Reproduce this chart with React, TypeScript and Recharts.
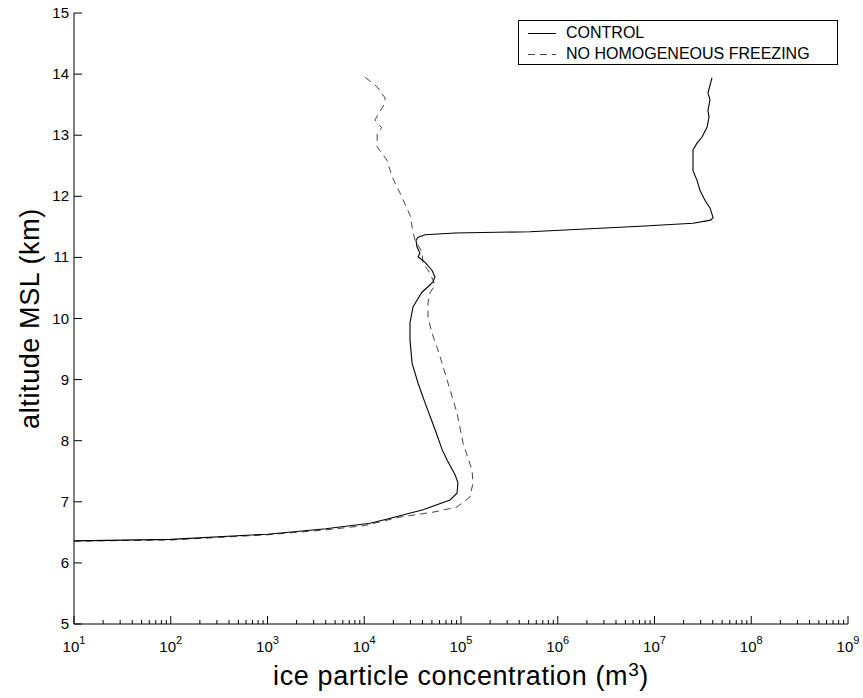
import React from 'react';
import { LineChart, Line, XAxis, YAxis, Legend } from 'recharts';

// ---- data ----
const controlConc = [
  10, 100, 1000, 4000, 11500, 18600, 40500, 77000, 91000, 93000,
  87000, 72000, 64000, 54000, 42500, 36000, 31200, 29700, 29700, 31900,
  35100, 39500, 45600, 51400, 53800, 50100, 42500, 36000, 37700, 35100,
  34300, 36000, 42500, 86700, 516000, 7080000, 25000000, 38000000, 40300000, 37500000,
  33300000, 29500000, 27500000, 25000000, 25000000, 25000000, 27500000, 31000000, 34900000, 36600000,
  35700000, 37500000, 35700000, 37500000, 39300000,
];
const controlAlt = [
  6.36, 6.385, 6.47, 6.56, 6.65, 6.73, 6.87, 7.03, 7.14, 7.31,
  7.44, 7.68, 7.85, 8.18, 8.62, 8.94, 9.27, 9.65, 9.93, 10.19,
  10.3, 10.43, 10.52, 10.6, 10.68, 10.79, 10.92, 11.01, 11.07, 11.17,
  11.28, 11.33, 11.37, 11.4, 11.42, 11.51, 11.56, 11.61, 11.65, 11.81,
  11.93, 12.1, 12.26, 12.42, 12.59, 12.76, 12.87, 12.97, 13.13, 13.3,
  13.41, 13.58, 13.69, 13.82, 13.94,
];

const noHomConc = [
  10, 100, 1000, 4000, 10000, 23400, 51400, 91000, 124000, 133000,
  130000, 115000, 105000, 91000, 73500, 63700, 56500, 50100, 45600, 45600,
  47900, 53800, 47900, 40500, 39500, 33500, 31900, 29700, 24500, 19400,
  17200, 13600, 13600, 15200, 12900, 16400, 16400, 13600, 10200,
];
const noHomAlt = [
  6.355, 6.375, 6.46, 6.54, 6.61, 6.75, 6.83, 6.915, 7.08, 7.31,
  7.52, 7.77, 7.96, 8.45, 8.94, 9.27, 9.53, 9.76, 10.02, 10.25,
  10.42, 10.55, 10.74, 10.91, 11.09, 11.28, 11.42, 11.69, 11.99, 12.32,
  12.59, 12.81, 13.05, 13.12, 13.25, 13.53, 13.61, 13.79, 13.95,
];

const xMajorTicks = [1e1, 1e2, 1e3, 1e4, 1e5, 1e6, 1e7, 1e8, 1e9];
const xMinorMultipliers = [2, 3, 4, 5, 6, 7, 8, 9];
const yTicks = [5, 6, 7, 8, 9, 10, 11, 12, 13, 14, 15];

const seriesNames = ['CONTROL', 'NO HOMOGENEOUS FREEZING'];
const xTitle = 'ice particle concentration (m';
const yTitle = 'altitude MSL (km)';

// ---- derived tables ----
const controlData = controlConc.map((x, i) => ({ x, y: controlAlt[i] }));
const noHomData = noHomConc.map((x, i) => ({ x, y: noHomAlt[i] }));
const xTicks: number[] = [];
xMajorTicks.forEach((m, i) => {
  xTicks.push(m);
  if (i < xMajorTicks.length - 1) xMinorMultipliers.forEach((k) => xTicks.push(k * m));
});

const FONT = '"Liberation Sans", Arial, Helvetica, sans-serif';

const isMajor = (v: number) => {
  const e = Math.round(Math.log10(v));
  return Math.abs(v / Math.pow(10, e) - 1) < 1e-6;
};

const BottomTick = (props: any) => {
  const { x, y, payload } = props;
  const v = payload.value;
  const major = isMajor(v);
  const e = Math.round(Math.log10(v));
  return (
    <g>
      <line x1={x} x2={x} y1={y} y2={y - (major ? 8 : 4)} stroke="#000" strokeWidth={1} />
      {major && (
        <text x={x} y={y + 28} textAnchor="middle" fontSize={15} fontFamily={FONT} fill="#000">
          10
          <tspan dy={-8} fontSize={11}>
            {e}
          </tspan>
        </text>
      )}
    </g>
  );
};

const TopTick = (props: any) => {
  const { x, y, payload } = props;
  const major = isMajor(payload.value);
  return <line x1={x} x2={x} y1={y} y2={y + (major ? 8 : 4)} stroke="#000" strokeWidth={1} />;
};

const LeftTick = (props: any) => {
  const { x, y, payload } = props;
  return (
    <g>
      <line x1={x} x2={x + 8} y1={y} y2={y} stroke="#000" strokeWidth={1} />
      <text x={x - 5} y={y + 5} textAnchor="end" fontSize={15} fontFamily={FONT} fill="#000">
        {payload.value}
      </text>
    </g>
  );
};

const RightTick = (props: any) => {
  const { x, y } = props;
  return <line x1={x} x2={x - 8} y1={y} y2={y} stroke="#000" strokeWidth={1} />;
};

const XTitle = (props: any) => {
  const vb = props.viewBox || {};
  const cx = (vb.x ?? 74) + (vb.width ?? 774) / 2;
  const by = (vb.y ?? 624) + 61;
  return (
    <text x={cx} y={by} textAnchor="middle" fontSize={27} letterSpacing={0.6} fontFamily={FONT} fill="#000">
      {xTitle}
      <tspan dy={-9} fontSize={19}>3</tspan>
      <tspan dy={9}>)</tspan>
    </text>
  );
};

const YTitle = (props: any) => {
  const vb = props.viewBox || {};
  const cx = (vb.x ?? 0) + 30;
  const cy = (vb.y ?? 13) + (vb.height ?? 611) / 2;
  return (
    <text
      x={cx}
      y={cy}
      transform={`rotate(-90 ${cx} ${cy})`}
      textAnchor="middle"
      dominantBaseline="central"
      fontSize={27}
      letterSpacing={0.6}
      fontFamily={FONT}
      fill="#000"
    >
      {yTitle}
    </text>
  );
};

const LegendBox = () => (
  <div
    style={{
      position: 'relative',
      width: 320,
      height: 45,
      border: '1px solid #000',
      background: '#fff',
      boxSizing: 'border-box',
      fontFamily: FONT,
      fontSize: 16,
      color: '#000',
    }}
  >
    {seriesNames.map((name, i) => (
      <div
        key={name}
        style={{ position: 'absolute', left: 9, top: i === 0 ? 3 : 24, height: 18, display: 'flex', alignItems: 'center', whiteSpace: 'nowrap' }}
      >
        <svg width={30} height={18} style={{ display: 'block' }}>
          <line
            x1={0}
            x2={28}
            y1={9.5}
            y2={9.5}
            stroke={i === 0 ? '#000' : '#444'}
            strokeWidth={1}
            strokeDasharray={i === 0 ? undefined : '7 5'}
          />
        </svg>
        <span style={{ marginLeft: 8, lineHeight: '18px' }}>{name}</span>
      </div>
    ))}
  </div>
);

export default function App() {
  return (
    <div style={{ position: 'absolute', left: 0, top: 0, width: 863, height: 698, background: '#fff' }}>
      <LineChart width={863} height={698} margin={{ top: 13, right: 15, bottom: 0, left: 0 }}>
        <XAxis
          xAxisId="bottom"
          dataKey="x"
          type="number"
          scale="log"
          domain={[10, 1e9]}
          allowDataOverflow
          ticks={xTicks}
          interval={0}
          tickSize={0}
          tickMargin={0}
          tickLine={false}
          tick={<BottomTick />}
          height={74}
          axisLine={{ stroke: '#000', strokeWidth: 1 }}
          label={<XTitle />}
        />
        <XAxis
          xAxisId="top"
          orientation="top"
          dataKey="x"
          type="number"
          scale="log"
          domain={[10, 1e9]}
          allowDataOverflow
          ticks={xTicks}
          interval={0}
          tickSize={0}
          tickMargin={0}
          tickLine={false}
          tick={<TopTick />}
          height={0}
          axisLine={{ stroke: '#000', strokeWidth: 1 }}
        />
        <YAxis
          yAxisId="left"
          dataKey="y"
          type="number"
          domain={[5, 15]}
          allowDataOverflow
          ticks={yTicks}
          interval={0}
          tickSize={0}
          tickMargin={0}
          tickLine={false}
          tick={<LeftTick />}
          width={74}
          axisLine={{ stroke: '#000', strokeWidth: 1 }}
          label={<YTitle />}
        />
        <YAxis
          yAxisId="right"
          orientation="right"
          dataKey="y"
          type="number"
          domain={[5, 15]}
          allowDataOverflow
          ticks={yTicks}
          interval={0}
          tickSize={0}
          tickMargin={0}
          tickLine={false}
          tick={<RightTick />}
          width={0}
          axisLine={{ stroke: '#000', strokeWidth: 1 }}
        />
        <Legend
          layout="vertical"
          align="center"
          verticalAlign="middle"
          content={<LegendBox />}
          wrapperStyle={{ left: 518, top: 20, width: 320, height: 45 }}
        />
        <Line
          xAxisId="bottom"
          yAxisId="left"
          name={seriesNames[1]}
          data={noHomData}
          dataKey="y"
          type="linear"
          stroke="#444"
          strokeWidth={1}
          strokeDasharray="7 5"
          dot={false}
          activeDot={false}
          isAnimationActive={false}
        />
        <Line
          xAxisId="bottom"
          yAxisId="left"
          name={seriesNames[0]}
          data={controlData}
          dataKey="y"
          type="linear"
          stroke="#000"
          strokeWidth={1.1}
          dot={false}
          activeDot={false}
          isAnimationActive={false}
        />
      </LineChart>
    </div>
  );
}
